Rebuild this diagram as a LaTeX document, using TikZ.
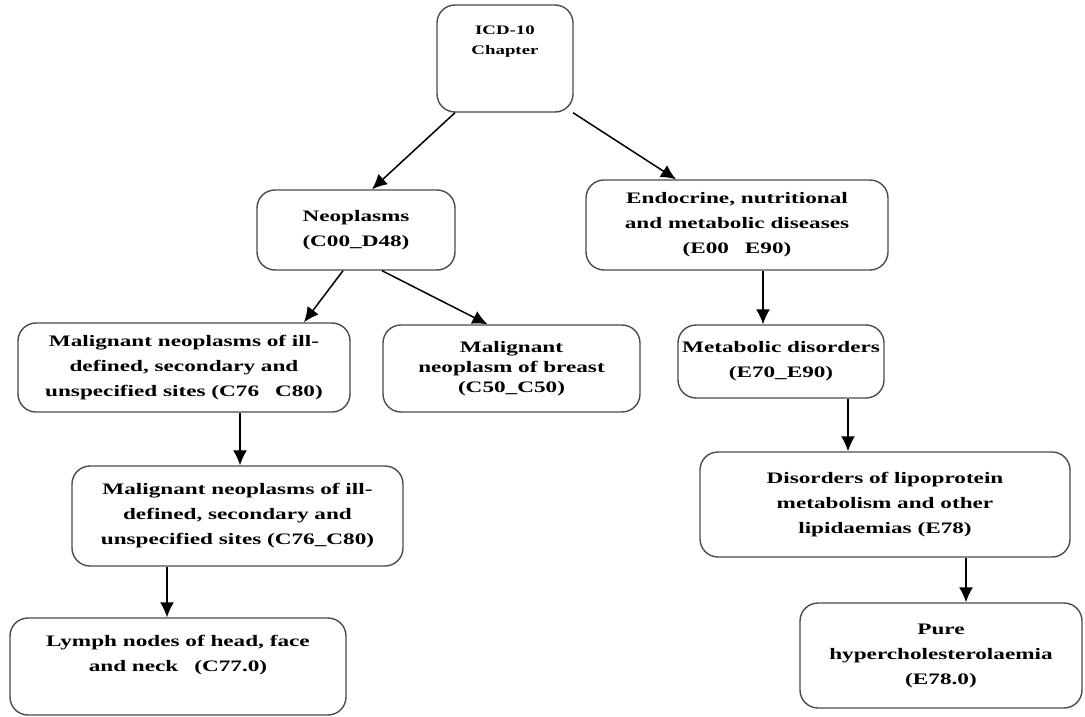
\documentclass[tikz,border=0pt]{standalone}
\usepackage{fontspec}
\setmainfont{Liberation Serif}[FakeStretch=1.45]
\usetikzlibrary{arrows.meta}
\begin{document}
\begin{tikzpicture}[x=1pt, y=-1pt, >=latex]
      \tikzset{
  chapter/.style={
    rectangle,
    rounded corners=18pt,
    draw=black!70,
    line width=1.4pt,
    fill=white,
    align=center,
    font=\bfseries\fontsize{16}{25}\selectfont
  },
  link/.style={
    -{Latex[length=15pt,width=14pt]},
    line width=1.5pt
  }
}
\useasboundingbox (0,0) rectangle (1085,717);

% top level
\node [chapter, inner sep=0pt, minimum width=136pt, minimum height=107pt] (icd) at (505,58.5)
  {\parbox[c][107pt][t]{130pt}{\vspace*{21pt}\centering\fontsize{13}{20}\selectfont ICD-10\\Chapter}};

% chapters
\node [chapter, minimum width=198pt, minimum height=80pt] (neo) at (356,230)
  {Neoplasms\\(C00\_D48)};
\node [chapter, minimum width=302pt, minimum height=90pt] (endo) at (737,225)
  {Endocrine, nutritional\\and metabolic diseases\\(E00\quad E90)};

% blocks
\node [chapter, minimum width=332pt, minimum height=89pt] (mal1) at (184,367.5)
  {Malignant neoplasms of ill-\\defined, secondary and\\unspecified sites (C76\quad C80)};
\node [chapter, minimum width=257pt, minimum height=87pt] (breast) at (511.5,368.5)
  {Malignant\\[-5pt]neoplasm of breast\\[-5pt](C50\_C50)};
\node [chapter, minimum width=206pt, minimum height=73pt] (meta) at (781,361.5)
  {Metabolic disorders\\(E70\_E90)};

% categories
\node [chapter, minimum width=331pt, minimum height=100pt] (mal2) at (237.5,516)
  {Malignant neoplasms of ill-\\defined, secondary and\\unspecified sites (C76\_C80)};
\node [chapter, minimum width=370pt, minimum height=105pt] (lipo) at (885,504.5)
  {Disorders of lipoprotein\\metabolism and other\\lipidaemias (E78)};

% codes
\node [chapter, inner sep=0pt, minimum width=336pt, minimum height=97pt] (lymph) at (178,666.5)
  {\parbox[c][97pt][t]{330pt}{\vspace*{17pt}\centering Lymph nodes of head, face\\and neck\quad(C77.0)}};
\node [chapter, minimum width=282pt, minimum height=105pt] (pure) at (941,655.5)
  {Pure\\hypercholesterolaemia\\(E78.0)};

\draw [link] ([xshift=-50pt]icd.south) -- ([xshift=16pt]neo.north);
\draw [link] ([xshift=68pt]icd.south) -- ([xshift=-61pt]endo.north);
\draw [link] ([xshift=-13pt]neo.south) -- ([xshift=120pt]mal1.north);
\draw [link] ([xshift=26pt]neo.south) -- ([xshift=-24pt]breast.north);

% straight down
\foreach \a/\b/\s in {endo/meta/26, mal1/mal2/56, meta/lipo/67, mal2/lymph/-70.5, lipo/pure/81}
  \draw [link] ([xshift=\s pt]\a.south) -- ([xshift=\s pt]\a.south |- \b.north);
      \end{tikzpicture}
\end{document}
